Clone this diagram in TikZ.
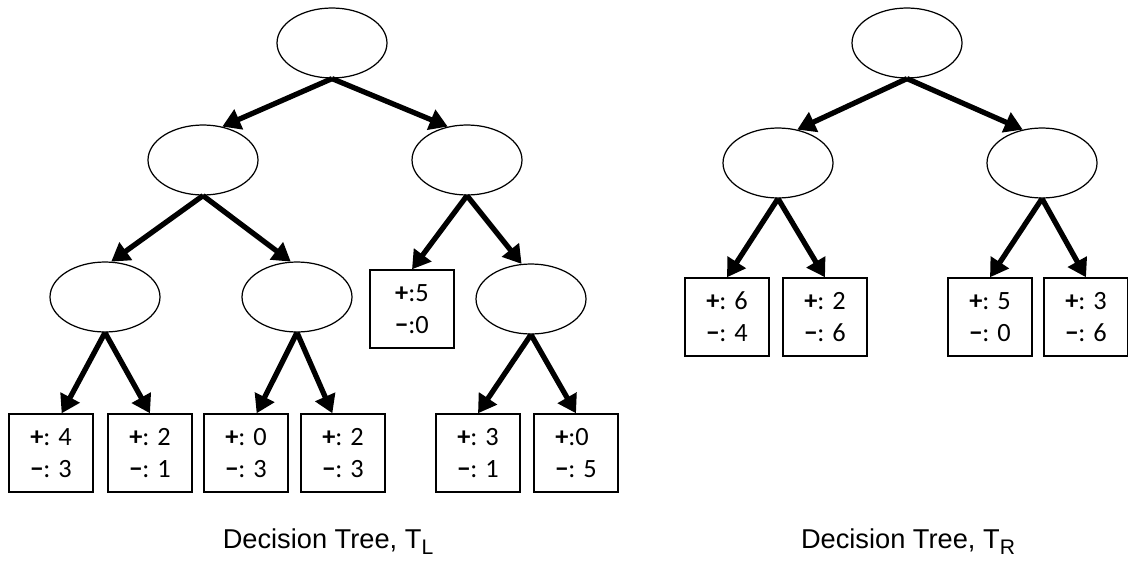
\documentclass[tikz,border=0pt]{standalone}
\usepackage{fontspec}
\setmainfont{Liberation Sans}
\newfontfamily\carlito{Carlito}
\usetikzlibrary{arrows.meta,shapes.geometric}
\def\treecaption#1{Decision Tree, T\raisebox{-0.45ex}{\fontsize{12}{12}\selectfont #1}}
\def\pos{\textbf{+}:}
\def\negs{\textbf{−}:}

\begin{document}
\begin{tikzpicture}[x=0.02cm, y=-0.02cm,
	split/.style={draw, ellipse, line width=0.7pt, minimum width=2.2cm, minimum height=1.4cm},
	leaf/.style={draw, line width=0.8pt, minimum width=1.68cm, minimum height=1.56cm, align=left, font=\carlito\fontsize{15}{18}\selectfont},
	branch/.style={line width=3pt, -{Triangle[length=0.36cm, width=0.42cm]}}]
		%%%%% START %%%%%
		\useasboundingbox (0, 0) rectangle (1128, 561);
		
		\node[split] (l) at (332, 43) {};
		\node[split] (la) at (203, 160) {};
		\node[split] (lb) at (467, 160) {};
		\node[split] (laa) at (105, 297) {};
		\node[split] (lab) at (297, 297) {};
		\node[leaf] (lba) at (412, 309) {\pos5\\\negs0};
		\node[split] (lbb) at (531, 299) {};
		
		\node[leaf] (laaa) at (51, 453) {\pos{} 4\\\negs{} 3};
		\node[leaf] (laab) at (150, 453) {\pos{} 2\\\negs{} 1};
		\node[leaf] (laba) at (246, 453) {\pos{} 0\\\negs{} 3};
		\node[leaf] (labb) at (343, 453) {\pos{} 2\\\negs{} 3};
		\node[leaf] (lbba) at (478, 453) {\pos{} 3\\\negs{} 1};
		\node[leaf] (lbbb) at (576, 453) {\pos0\\\negs{} 5};
		
		\draw[branch] (l.south) -- (la.60);
		\draw[branch] (l.south) -- (lb.120);
		\draw[branch] (la.south) -- (laa.80);
		\draw[branch] (la.south) -- (lab.100);
		\draw[branch] (lb.south) -- (lba.north);
		\draw[branch] (lb.south) -- (lbb.105);
		\draw[branch] (laa.south) -- (laaa.75);
		\draw[branch] (laa.south) -- (laab.north);
		\draw[branch] (lab.south) -- (laba.75);
		\draw[branch] (lab.south) -- (labb.105);
		\draw[branch] (lbb.south) -- (lbba.north);
		\draw[branch] (lbb.south) -- (lbbb.north);
		
		\node[split] (r) at (907, 43) {};
		\node[split] (ra) at (778, 163) {};
		\node[split] (rb) at (1042, 163) {};
		
		\node[leaf] (raa) at (727, 317) {\pos{} 6\\\negs{} 4};
		\node[leaf] (rab) at (825, 317) {\pos{} 2\\\negs{} 6};
		\node[leaf] (rba) at (990, 317) {\pos{} 5\\\negs{} 0};
		\node[leaf] (rbb) at (1086, 317) {\pos{} 3\\\negs{} 6};
		
		\draw[branch] (r.south) -- (ra.60);
		\draw[branch] (r.south) -- (rb.120);
		\draw[branch] (ra.south) -- (raa.north);
		\draw[branch] (ra.south) -- (rab.north);
		\draw[branch] (rb.south) -- (rba.north);
		\draw[branch] (rb.south) -- (rbb.north);
		
		\node[anchor=base, font=\fontsize{15.5}{18}\selectfont] (capl) at (328, 548) {\treecaption{L}};
		\node[anchor=base, font=\fontsize{15.5}{18}\selectfont] (capr) at (908, 548) {\treecaption{R}};
		%%%%% END %%%%%
\end{tikzpicture}
\end{document}
